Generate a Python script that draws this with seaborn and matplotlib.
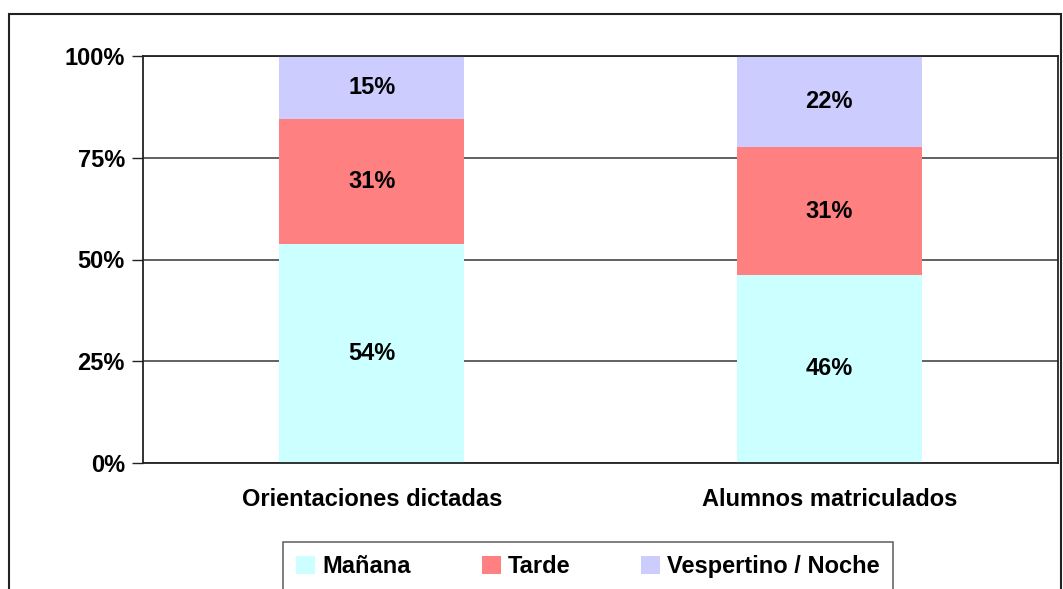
import pandas as pd
import matplotlib
matplotlib.use("Agg")
import matplotlib.pyplot as plt
import matplotlib.patches as mpatches
import seaborn as sns

# values (percent of each column)
categorias = ["Orientaciones dictadas", "Alumnos matriculados"]
turnos = ["Mañana", "Tarde", "Vespertino / Noche"]
manana = [53.7, 46.2]
tarde = [30.9, 31.4]
vespertino = [15.4, 22.4]
colores = ["#CCFFFF", "#FF8080", "#CCCCFF"]
y_ticks = [0, 25, 50, 75, 100]

sns.set_style("white")
plt.rcParams["font.family"] = ["Liberation Sans", "DejaVu Sans"]
plt.rcParams["font.weight"] = "bold"
plt.rcParams["text.color"] = "black"
plt.rcParams["xtick.color"] = "black"
plt.rcParams["ytick.color"] = "black"

FS = 17

df = pd.DataFrame({"categoria": categorias, "Mañana": manana,
                   "Tarde": tarde, "Vespertino / Noche": vespertino})
df["c1"] = df["Mañana"]
df["c2"] = df["c1"] + df["Tarde"]
df["c3"] = df["c2"] + df["Vespertino / Noche"]

fig = plt.figure(figsize=(10.63, 5.89), dpi=100)
ax = fig.add_axes([143 / 1063, 126 / 589, 915 / 1063, 407 / 589])

# outer chart frame
fig.patches.append(mpatches.Rectangle((9 / 1063, -0.05), 1052 / 1063, 1.05 - 14 / 589,
                                      transform=fig.transFigure, fill=False,
                                      edgecolor="#222222", linewidth=1.5))

ax.set_axisbelow(True)
ax.yaxis.grid(True, color="#555555", linewidth=1.3)

# stacked bars: draw cumulative totals from tallest to shortest
for col, color in zip(["c3", "c2", "c1"], colores[::-1]):
    sns.barplot(data=df, x="categoria", y=col, color=color, width=0.404,
                saturation=1, ax=ax, linewidth=0)

# segment labels
for i, row in df.iterrows():
    bottoms = [0, row["c1"], row["c2"]]
    for b, t in zip(bottoms, turnos):
        v = row[t]
        ax.text(i, b + v / 2, f"{v:.0f}%", ha="center", va="center",
                fontsize=FS, fontweight="bold", color="black")

ax.set_xlim(-0.5, 1.5)
ax.set_ylim(0, 100)
ax.set_yticks(y_ticks)
ax.set_yticklabels([f"{t}%" for t in y_ticks], fontsize=FS, fontweight="bold")
ax.set_xticks([0, 1])
ax.set_xticklabels(categorias, fontsize=FS, fontweight="bold")
ax.set_xticks([-0.5, 0.5, 1.5], minor=True)
ax.tick_params(axis="x", which="major", length=0, pad=18)
ax.tick_params(axis="x", which="minor", length=6, width=1, color="#222222", direction="out")
ax.tick_params(axis="y", length=8, width=1, color="#222222", direction="out", left=True, pad=5)
ax.set_xlabel("")
ax.set_ylabel("")
for s in ax.spines.values():
    s.set_color("#222222")
    s.set_linewidth(1.3)

handles = [mpatches.Patch(facecolor=c, edgecolor="none", label=t) for c, t in zip(colores, turnos)]
leg = fig.legend(handles=handles, loc="upper center", ncol=3,
                 bbox_to_anchor=(588 / 1063, 1 - 542 / 589),
                 prop={"size": FS, "weight": "bold"}, frameon=True, fancybox=False,
                 edgecolor="#444444", handlelength=0.8, handleheight=0.8,
                 handletextpad=0.3, columnspacing=3.0, borderpad=0.55, borderaxespad=0)
leg.get_frame().set_linewidth(1.2)

fig.savefig("out.png", dpi=100)
